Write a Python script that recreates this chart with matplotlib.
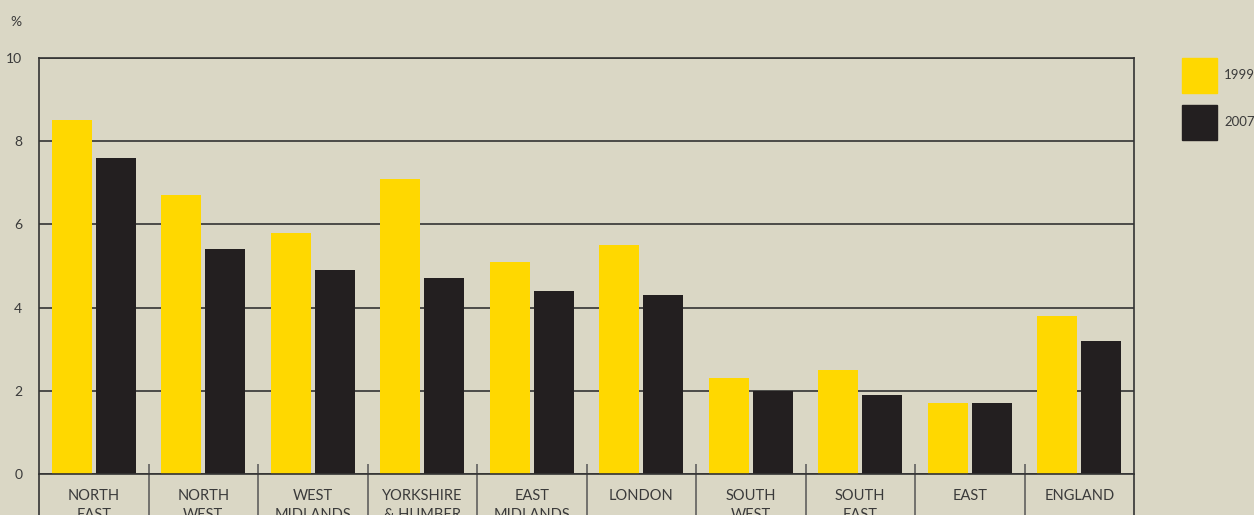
import numpy as np
import matplotlib.pyplot as plt

plt.rcParams['font.family'] = ['Lato', 'DejaVu Sans']

regions = ['NORTH\nEAST', 'NORTH\nWEST', 'WEST\nMIDLANDS', 'YORKSHIRE\n& HUMBER',
           'EAST\nMIDLANDS', 'LONDON', 'SOUTH\nWEST', 'SOUTH\nEAST', 'EAST', 'ENGLAND']
v1999 = [8.5, 6.7, 5.8, 7.1, 5.1, 5.5, 2.3, 2.5, 1.7, 3.8]
v2007 = [7.6, 5.4, 4.9, 4.7, 4.4, 4.3, 2.0, 1.9, 1.7, 3.2]
years = ['1999', '2007']

BG = '#DAD7C5'
YELLOW = '#FFD800'
DARK = '#231F20'
LINE = '#333333'
TEXT = '#3a3a3a'

W, H = 1254, 515
fig = plt.figure(figsize=(W / 100, H / 100), dpi=100, facecolor=BG)
ax = fig.add_axes([39 / W, (H - 474) / H, 1095 / W, 416 / H])
ax.set_facecolor(BG)

x = np.arange(len(regions))
ax.bar(x - 0.2, v1999, width=0.365, color=YELLOW, zorder=3)
ax.bar(x + 0.2, v2007, width=0.365, color=DARK, zorder=3)

ax.set_xlim(-0.5, len(regions) - 0.5)
ax.set_ylim(0, 10)
ax.set_yticks([0, 2, 4, 6, 8, 10])
ax.tick_params(axis='y', length=0, pad=12, labelsize=10, labelcolor=TEXT)
ax.set_xticks(x)
ax.set_xticklabels(regions, fontsize=10.5, color=TEXT, linespacing=1.4)
ax.tick_params(axis='x', length=0, pad=11)

ax.grid(axis='y', color=LINE, linewidth=1.2, zorder=1)
ax.grid(axis='x', visible=False)
for s in ax.spines.values():
    s.set_color(LINE)
    s.set_linewidth(1.2)
    s.set_zorder(4)

# category separators below the axis
ax.vlines(np.arange(0.5, len(regions) - 0.5), 0.24, -1.0, color='#555555',
          linewidth=1.1, clip_on=False)
ax.vlines([-0.5, len(regions) - 0.5], 0, -1.0, color=LINE, linewidth=1.2, clip_on=False)

fig.text(16 / W, 1 - 22 / H, '%', fontsize=10, color=TEXT, ha='center', va='center')

# legend
for i, (lab, col) in enumerate(zip(years, [YELLOW, DARK])):
    y0 = 58 + i * 47
    fig.patches.append(plt.Rectangle((1182 / W, 1 - (y0 + 35) / H), 35 / W, 35 / H,
                                     transform=fig.transFigure, color=col))
    fig.text(1224 / W, 1 - (y0 + 17) / H, lab, fontsize=9.5, color=TEXT, va='center')

fig.savefig('out.png', dpi=100, facecolor=BG)
